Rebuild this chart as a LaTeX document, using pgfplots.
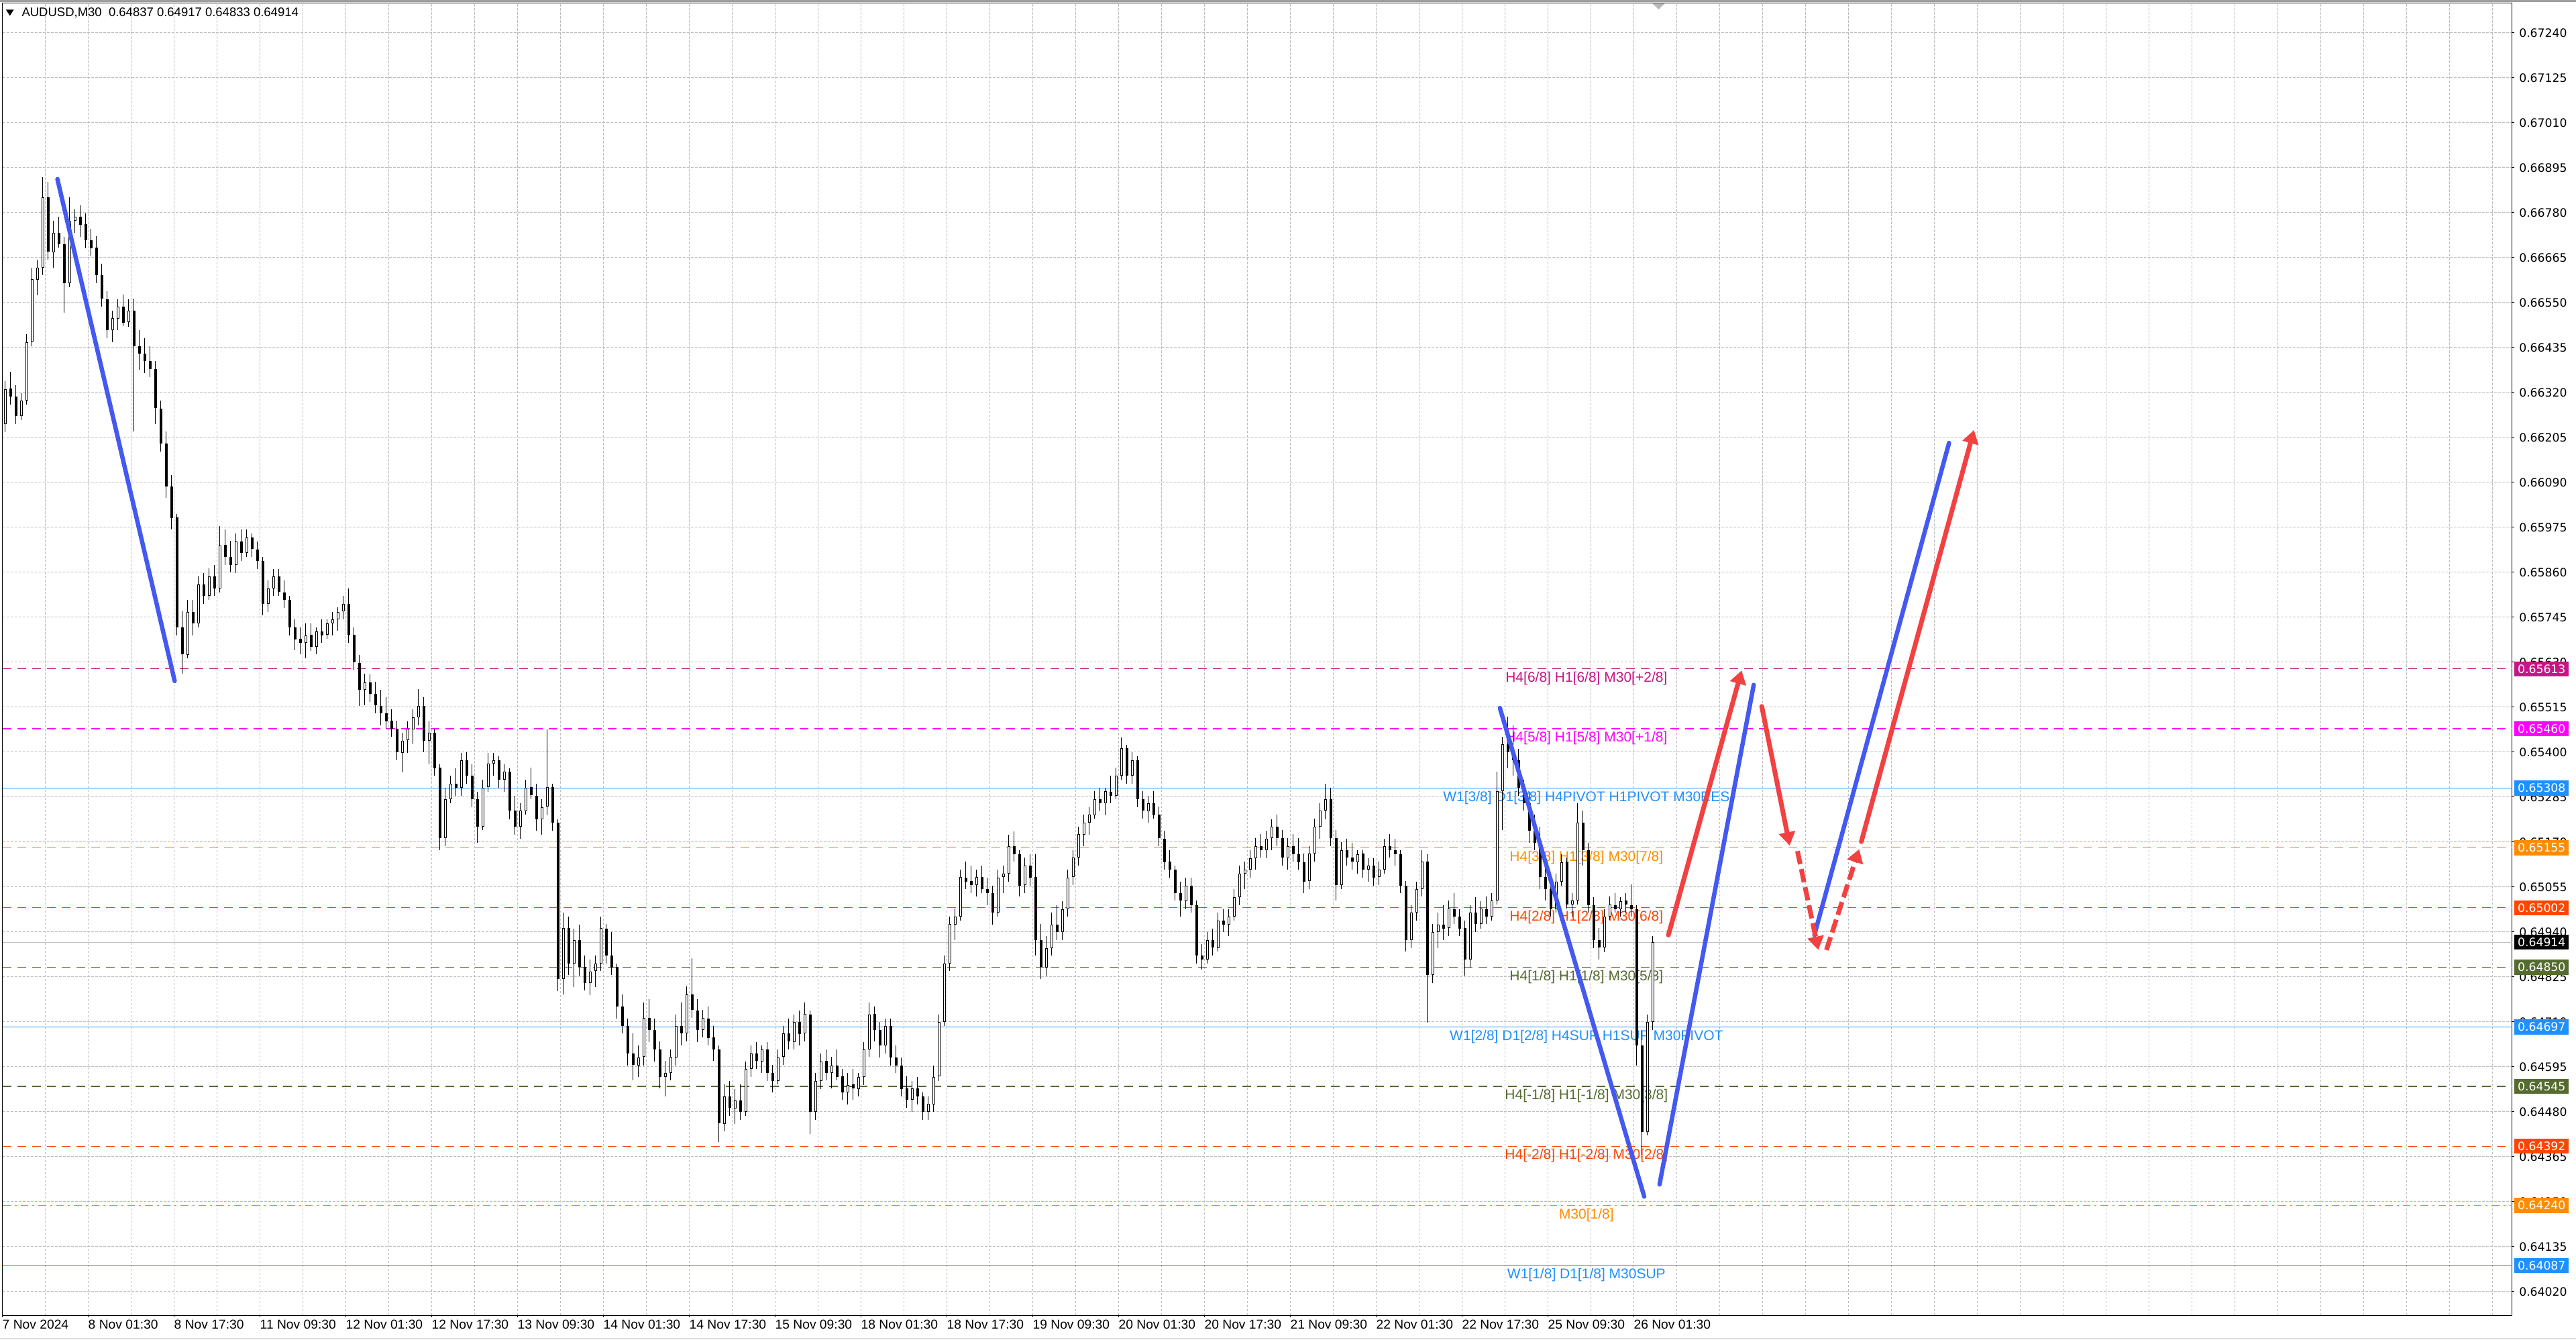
\documentclass[border=0pt]{standalone}
\usepackage{fontspec}
\setmainfont{Liberation Sans}
\newfontfamily\pricefamily{DejaVu Sans}
\usepackage{pgfplots}
\pgfplotsset{compat=1.18}
\usepackage{pgfplotstable}
\usetikzlibrary{arrows.meta}

\definecolor{mvred}{HTML}{C71585}
\definecolor{lvlmag}{HTML}{FF00FF}
\definecolor{dblue}{HTML}{1E90FF}
\definecolor{dorange}{HTML}{FF8C00}
\definecolor{ored}{HTML}{FF4500}
\definecolor{lvlolive}{HTML}{556B2F}
\definecolor{trendblue}{HTML}{4459F0}
\definecolor{arrowred}{HTML}{F24141}
\definecolor{gridgray}{HTML}{BEBEBE}
\definecolor{nowgray}{HTML}{C0C0C0}

\newcommand\pricefont{\pricefamily\fontsize{6.9}{7.5}\selectfont}
\newcommand\timefont{\fontsize{7.7}{9}\selectfont}
\newcommand\lvlfont{\fontsize{8.4}{10}\selectfont}
\newcommand\titlefont{\fontsize{7.4}{9}\selectfont}

% AUDUSD M30, drawn as hourly candles, x = bar index (1 bar = 30 min)
\pgfplotstableread{
x o h l c
1 0.66240 0.66350 0.66220 0.66330
3 0.66330 0.66375 0.66290 0.66310
5 0.66310 0.66340 0.66240 0.66260
7 0.66260 0.66320 0.66250 0.66300
9 0.66300 0.66470 0.66290 0.66450
11 0.66450 0.66640 0.66440 0.66610
13 0.66610 0.66660 0.66570 0.66640
15 0.66640 0.66871 0.66620 0.66820
17 0.66820 0.66860 0.66660 0.66680
19 0.66680 0.66760 0.66640 0.66730
21 0.66730 0.66770 0.66690 0.66700
23 0.66700 0.66720 0.66525 0.66600
25 0.66600 0.66820 0.66590 0.66760
27 0.66760 0.66790 0.66730 0.66770
29 0.66770 0.66800 0.66720 0.66750
31 0.66750 0.66780 0.66690 0.66710
33 0.66710 0.66740 0.66670 0.66690
35 0.66690 0.66720 0.66600 0.66620
37 0.66620 0.66650 0.66540 0.66560
39 0.66560 0.66580 0.66460 0.66480
41 0.66480 0.66530 0.66450 0.66510
43 0.66510 0.66560 0.66480 0.66540
45 0.66540 0.66570 0.66490 0.66500
47 0.66500 0.66560 0.66490 0.66530
49 0.66530 0.66560 0.66220 0.66440
51 0.66440 0.66480 0.66380 0.66420
53 0.66420 0.66460 0.66370 0.66400
55 0.66400 0.66440 0.66360 0.66380
57 0.66380 0.66400 0.66240 0.66280
59 0.66280 0.66300 0.66170 0.66190
61 0.66190 0.66220 0.66050 0.66080
63 0.66080 0.66110 0.65970 0.66000
65 0.66000 0.66010 0.65700 0.65720
67 0.65720 0.65760 0.65600 0.65650
69 0.65650 0.65790 0.65640 0.65760
71 0.65760 0.65790 0.65700 0.65730
73 0.65730 0.65850 0.65720 0.65830
75 0.65830 0.65860 0.65780 0.65800
77 0.65800 0.65870 0.65790 0.65850
79 0.65850 0.65880 0.65800 0.65820
81 0.65820 0.65980 0.65810 0.65930
83 0.65930 0.65970 0.65880 0.65900
85 0.65900 0.65940 0.65860 0.65880
87 0.65880 0.65960 0.65860 0.65940
89 0.65940 0.65970 0.65890 0.65910
91 0.65910 0.65970 0.65900 0.65950
93 0.65950 0.65960 0.65900 0.65920
95 0.65920 0.65940 0.65870 0.65890
97 0.65890 0.65900 0.65750 0.65780
99 0.65780 0.65840 0.65760 0.65820
101 0.65820 0.65870 0.65800 0.65850
103 0.65850 0.65870 0.65800 0.65810
105 0.65810 0.65840 0.65770 0.65790
107 0.65790 0.65800 0.65700 0.65720
109 0.65720 0.65740 0.65660 0.65690
111 0.65690 0.65720 0.65650 0.65680
113 0.65680 0.65730 0.65640 0.65700
115 0.65700 0.65730 0.65660 0.65670
117 0.65670 0.65720 0.65650 0.65710
119 0.65710 0.65740 0.65680 0.65700
121 0.65700 0.65740 0.65690 0.65730
123 0.65730 0.65760 0.65700 0.65740
125 0.65740 0.65770 0.65710 0.65760
127 0.65760 0.65800 0.65740 0.65780
129 0.65780 0.65820 0.65680 0.65700
131 0.65700 0.65720 0.65610 0.65630
133 0.65630 0.65650 0.65520 0.65560
135 0.65560 0.65600 0.65520 0.65580
137 0.65580 0.65600 0.65530 0.65550
139 0.65550 0.65580 0.65500 0.65520
141 0.65520 0.65560 0.65470 0.65500
143 0.65500 0.65540 0.65460 0.65480
145 0.65480 0.65510 0.65440 0.65460
147 0.65460 0.65480 0.65380 0.65400
149 0.65400 0.65450 0.65350 0.65430
151 0.65430 0.65480 0.65400 0.65460
153 0.65460 0.65510 0.65420 0.65490
155 0.65490 0.65563 0.65470 0.65520
157 0.65520 0.65540 0.65400 0.65430
159 0.65430 0.65480 0.65370 0.65450
161 0.65450 0.65460 0.65340 0.65360
163 0.65360 0.65370 0.65150 0.65180
165 0.65180 0.65310 0.65160 0.65280
167 0.65280 0.65340 0.65270 0.65320
169 0.65320 0.65360 0.65290 0.65310
171 0.65310 0.65400 0.65290 0.65380
173 0.65380 0.65400 0.65320 0.65340
175 0.65340 0.65370 0.65260 0.65280
177 0.65280 0.65300 0.65170 0.65210
179 0.65210 0.65330 0.65200 0.65310
181 0.65310 0.65400 0.65300 0.65370
183 0.65370 0.65400 0.65340 0.65380
185 0.65380 0.65390 0.65310 0.65330
187 0.65330 0.65370 0.65300 0.65350
189 0.65350 0.65360 0.65230 0.65250
191 0.65250 0.65290 0.65190 0.65210
193 0.65210 0.65270 0.65180 0.65250
195 0.65250 0.65330 0.65240 0.65310
197 0.65310 0.65360 0.65280 0.65290
199 0.65290 0.65320 0.65200 0.65230
201 0.65230 0.65280 0.65190 0.65260
203 0.65260 0.65460 0.65240 0.65310
205 0.65310 0.65320 0.65200 0.65220
207 0.65220 0.65230 0.64790 0.64820
209 0.64820 0.64990 0.64780 0.64950
211 0.64950 0.64980 0.64830 0.64860
213 0.64860 0.64950 0.64800 0.64920
215 0.64920 0.64960 0.64830 0.64850
217 0.64850 0.64880 0.64790 0.64810
219 0.64810 0.64870 0.64780 0.64840
221 0.64840 0.64880 0.64800 0.64860
223 0.64860 0.64980 0.64840 0.64950
225 0.64950 0.64960 0.64860 0.64880
227 0.64880 0.64940 0.64830 0.64850
229 0.64850 0.64860 0.64720 0.64750
231 0.64750 0.64780 0.64680 0.64700
233 0.64700 0.64720 0.64600 0.64630
235 0.64630 0.64680 0.64560 0.64600
237 0.64600 0.64650 0.64570 0.64620
239 0.64620 0.64760 0.64600 0.64720
241 0.64720 0.64770 0.64660 0.64690
243 0.64690 0.64720 0.64610 0.64640
245 0.64640 0.64660 0.64540 0.64570
247 0.64570 0.64610 0.64520 0.64580
249 0.64580 0.64640 0.64560 0.64620
251 0.64620 0.64730 0.64600 0.64700
253 0.64700 0.64760 0.64650 0.64680
255 0.64680 0.64800 0.64660 0.64780
257 0.64780 0.64873 0.64720 0.64740
259 0.64740 0.64770 0.64660 0.64690
261 0.64690 0.64740 0.64670 0.64720
263 0.64720 0.64750 0.64650 0.64670
265 0.64670 0.64700 0.64610 0.64640
267 0.64640 0.64650 0.64404 0.64450
269 0.64450 0.64550 0.64430 0.64520
271 0.64520 0.64560 0.64470 0.64490
273 0.64490 0.64540 0.64450 0.64510
275 0.64510 0.64550 0.64460 0.64480
277 0.64480 0.64610 0.64470 0.64590
279 0.64590 0.64650 0.64570 0.64630
281 0.64630 0.64660 0.64590 0.64610
283 0.64610 0.64650 0.64580 0.64640
285 0.64640 0.64660 0.64560 0.64580
287 0.64580 0.64600 0.64530 0.64560
289 0.64560 0.64640 0.64550 0.64620
291 0.64620 0.64700 0.64600 0.64680
293 0.64680 0.64720 0.64640 0.64660
295 0.64660 0.64730 0.64640 0.64710
297 0.64710 0.64740 0.64650 0.64680
299 0.64680 0.64760 0.64660 0.64730
301 0.64730 0.64740 0.64424 0.64480
303 0.64480 0.64580 0.64460 0.64560
305 0.64560 0.64630 0.64540 0.64610
307 0.64610 0.64640 0.64560 0.64580
309 0.64580 0.64620 0.64540 0.64600
311 0.64600 0.64640 0.64560 0.64570
313 0.64570 0.64590 0.64510 0.64530
315 0.64530 0.64580 0.64500 0.64550
317 0.64550 0.64590 0.64510 0.64540
319 0.64540 0.64580 0.64520 0.64570
321 0.64570 0.64660 0.64550 0.64640
323 0.64640 0.64760 0.64620 0.64730
325 0.64730 0.64750 0.64660 0.64690
327 0.64690 0.64710 0.64620 0.64650
329 0.64650 0.64720 0.64630 0.64700
331 0.64700 0.64720 0.64600 0.64620
333 0.64620 0.64650 0.64580 0.64600
335 0.64600 0.64620 0.64520 0.64540
337 0.64540 0.64570 0.64490 0.64510
339 0.64510 0.64560 0.64480 0.64540
341 0.64540 0.64570 0.64500 0.64520
343 0.64520 0.64530 0.64460 0.64480
345 0.64480 0.64520 0.64460 0.64500
347 0.64500 0.64600 0.64480 0.64570
349 0.64570 0.64730 0.64560 0.64710
351 0.64710 0.64880 0.64700 0.64860
353 0.64860 0.64980 0.64840 0.64960
355 0.64960 0.65000 0.64920 0.64980
357 0.64980 0.65100 0.64970 0.65080
359 0.65080 0.65120 0.65050 0.65070
361 0.65070 0.65110 0.65040 0.65060
363 0.65060 0.65100 0.65030 0.65080
365 0.65080 0.65110 0.65040 0.65050
367 0.65050 0.65080 0.65010 0.65040
369 0.65040 0.65060 0.64960 0.64990
371 0.64990 0.65100 0.64980 0.65080
373 0.65080 0.65110 0.65040 0.65090
375 0.65090 0.65190 0.65070 0.65160
377 0.65160 0.65197 0.65120 0.65140
379 0.65140 0.65150 0.65030 0.65060
381 0.65060 0.65130 0.65040 0.65110
383 0.65110 0.65140 0.65060 0.65080
385 0.65080 0.65140 0.64880 0.64920
387 0.64920 0.64960 0.64820 0.64850
389 0.64850 0.64930 0.64830 0.64900
391 0.64900 0.64990 0.64880 0.64960
393 0.64960 0.65010 0.64920 0.64940
395 0.64940 0.65020 0.64920 0.65000
397 0.65000 0.65100 0.64980 0.65080
399 0.65080 0.65150 0.65060 0.65130
401 0.65130 0.65210 0.65110 0.65190
403 0.65190 0.65240 0.65160 0.65220
405 0.65220 0.65260 0.65190 0.65240
407 0.65240 0.65300 0.65230 0.65280
409 0.65280 0.65310 0.65250 0.65270
411 0.65270 0.65310 0.65240 0.65300
413 0.65300 0.65340 0.65270 0.65290
415 0.65290 0.65360 0.65280 0.65340
417 0.65340 0.65439 0.65330 0.65410
419 0.65410 0.65420 0.65320 0.65340
421 0.65340 0.65400 0.65320 0.65380
423 0.65380 0.65390 0.65260 0.65280
425 0.65280 0.65300 0.65230 0.65250
427 0.65250 0.65290 0.65220 0.65270
429 0.65270 0.65300 0.65230 0.65240
431 0.65240 0.65260 0.65160 0.65180
433 0.65180 0.65200 0.65100 0.65120
435 0.65120 0.65150 0.65080 0.65100
437 0.65100 0.65110 0.65020 0.65040
439 0.65040 0.65070 0.64980 0.65020
441 0.65020 0.65080 0.65000 0.65060
443 0.65060 0.65080 0.64990 0.65010
445 0.65010 0.65020 0.64860 0.64880
447 0.64880 0.64910 0.64844 0.64870
449 0.64870 0.64940 0.64860 0.64920
451 0.64920 0.64950 0.64880 0.64900
453 0.64900 0.64990 0.64890 0.64970
455 0.64970 0.65000 0.64940 0.64960
457 0.64960 0.65000 0.64930 0.64980
459 0.64980 0.65050 0.64970 0.65030
461 0.65030 0.65110 0.65010 0.65090
463 0.65090 0.65120 0.65050 0.65100
465 0.65100 0.65150 0.65080 0.65130
467 0.65130 0.65180 0.65100 0.65160
469 0.65160 0.65190 0.65130 0.65150
471 0.65150 0.65200 0.65130 0.65180
473 0.65180 0.65230 0.65150 0.65210
475 0.65210 0.65240 0.65160 0.65180
477 0.65180 0.65200 0.65110 0.65130
479 0.65130 0.65180 0.65100 0.65160
481 0.65160 0.65190 0.65120 0.65140
483 0.65140 0.65180 0.65100 0.65120
485 0.65120 0.65140 0.65040 0.65070
487 0.65070 0.65160 0.65050 0.65140
489 0.65140 0.65230 0.65120 0.65210
491 0.65210 0.65270 0.65180 0.65250
493 0.65250 0.65320 0.65230 0.65280
495 0.65280 0.65310 0.65160 0.65180
497 0.65180 0.65200 0.65020 0.65060
499 0.65060 0.65170 0.65050 0.65150
501 0.65150 0.65180 0.65110 0.65130
503 0.65130 0.65170 0.65100 0.65120
505 0.65120 0.65150 0.65090 0.65140
507 0.65140 0.65150 0.65080 0.65100
509 0.65100 0.65130 0.65070 0.65110
511 0.65110 0.65130 0.65060 0.65080
513 0.65080 0.65120 0.65060 0.65100
515 0.65100 0.65180 0.65090 0.65160
517 0.65160 0.65190 0.65130 0.65150
519 0.65150 0.65180 0.65110 0.65140
521 0.65140 0.65150 0.65040 0.65060
523 0.65060 0.65070 0.64890 0.64920
525 0.64920 0.65010 0.64900 0.64990
527 0.64990 0.65070 0.64970 0.65050
529 0.65050 0.65150 0.65030 0.65120
531 0.65120 0.65140 0.64709 0.64830
533 0.64830 0.64960 0.64810 0.64940
535 0.64940 0.64990 0.64900 0.64960
537 0.64960 0.65010 0.64920 0.64950
539 0.64950 0.65020 0.64930 0.65000
541 0.65000 0.65040 0.64960 0.64980
543 0.64980 0.65000 0.64930 0.64950
545 0.64950 0.64970 0.64830 0.64870
547 0.64870 0.65010 0.64850 0.64990
549 0.64990 0.65030 0.64940 0.64960
551 0.64960 0.65020 0.64950 0.65000
553 0.65000 0.65030 0.64960 0.64980
555 0.64980 0.65040 0.64970 0.65020
557 0.65020 0.65350 0.65010 0.65300
559 0.65300 0.65440 0.65200 0.65420
561 0.65420 0.65493 0.65360 0.65400
563 0.65400 0.65470 0.65340 0.65380
565 0.65380 0.65410 0.65290 0.65310
567 0.65310 0.65330 0.65250 0.65270
569 0.65270 0.65300 0.65170 0.65200
571 0.65200 0.65240 0.65150 0.65170
573 0.65170 0.65210 0.65050 0.65080
575 0.65080 0.65120 0.65020 0.65050
577 0.65050 0.65060 0.64980 0.65000
579 0.65000 0.65090 0.64990 0.65070
581 0.65070 0.65140 0.65060 0.65120
583 0.65120 0.65130 0.65000 0.65010
585 0.65010 0.65040 0.64980 0.65020
587 0.65020 0.65270 0.65010 0.65220
589 0.65220 0.65250 0.65110 0.65150
591 0.65150 0.65170 0.64990 0.65010
593 0.65010 0.65030 0.64900 0.64920
595 0.64920 0.64950 0.64869 0.64900
597 0.64900 0.65000 0.64890 0.64980
599 0.64980 0.65030 0.64970 0.65010
601 0.65010 0.65040 0.64990 0.65000
603 0.65000 0.65030 0.64980 0.65020
605 0.65020 0.65040 0.64990 0.65010
607 0.65010 0.65063 0.64980 0.65000
609 0.65000 0.65010 0.64600 0.64650
611 0.64650 0.64690 0.64370 0.64430
613 0.64430 0.64730 0.64420 0.64710
615 0.64710 0.64930 0.64690 0.64914
}\candles

\begin{document}
\begin{tikzpicture}
\path[use as bounding box, fill=white] (-1.6pt,-14.4pt) rectangle (1534.4pt,784pt);
\begin{axis}[
  at={(0,0)}, anchor=south west,
  scale only axis, width=1496.4pt, height=782.2pt,
  xmin=0, xmax=935.25, ymin=0.639597, ymax=0.673164,
  clip=false,
  axis line style={black, line width=0.4pt},
  tick align=outside,
  xtick pos=bottom, ytick pos=right, yticklabel pos=right,
  major tick length=1.2pt, minor tick length=0pt,
  tick style={black, line width=0.4pt},
  xtick={0,32,...,608},
  xticklabels={7 Nov 2024,8 Nov 01:30,8 Nov 17:30,11 Nov 09:30,12 Nov 01:30,12 Nov 17:30,13 Nov 09:30,14 Nov 01:30,14 Nov 17:30,15 Nov 09:30,18 Nov 01:30,18 Nov 17:30,19 Nov 09:30,20 Nov 01:30,20 Nov 17:30,21 Nov 09:30,22 Nov 01:30,22 Nov 17:30,25 Nov 09:30,26 Nov 01:30},
  minor xtick={0,16,...,928},
  xminorgrids=true, xmajorgrids=false, ymajorgrids=true,
  grid style={draw=gridgray, line width=0.4pt, dash pattern=on 1.4pt off 1pt},
  minor grid style={draw=gridgray, line width=0.4pt, dash pattern=on 1.4pt off 1pt},
  ytick={0.64020,0.64135,0.64250,0.64365,0.64480,0.64595,0.64710,0.64825,0.64940,0.65055,0.65170,0.65285,0.65400,0.65515,0.65630,0.65745,0.65860,0.65975,0.66090,0.66205,0.66320,0.66435,0.66550,0.66665,0.66780,0.66895,0.67010,0.67125,0.67240},
  yticklabels={0.64020,0.64135,0.64250,0.64365,0.64480,0.64595,0.64710,0.64825,0.64940,0.65055,0.65170,0.65285,0.65400,0.65515,0.65630,0.65745,0.65860,0.65975,0.66090,0.66205,0.66320,0.66435,0.66550,0.66665,0.66780,0.66895,0.67010,0.67125,0.67240},
  xticklabel style={font=\timefont, anchor=north west, inner sep=0pt, yshift=-1.4pt, xshift=-0.3pt},
  yticklabel style={font=\pricefont, anchor=west, inner sep=0pt, xshift=2.8pt},
]
% horizontal levels
\addplot[mvred, line width=0.45pt, dash pattern=on 5.2pt off 3.6pt] coordinates {(0,0.65613) (935.25,0.65613)};
\addplot[lvlmag, line width=0.45pt, dash pattern=on 5.2pt off 3.6pt] coordinates {(0,0.65460) (935.25,0.65460)};
\addplot[dblue, line width=0.45pt] coordinates {(0,0.65308) (935.25,0.65308)};
\addplot[dorange, line width=0.45pt, dash pattern=on 5.2pt off 3.6pt] coordinates {(0,0.65155) (935.25,0.65155)};
\addplot[ored, line width=0.45pt, dash pattern=on 5.2pt off 3.6pt] coordinates {(0,0.65002) (935.25,0.65002)};
\addplot[nowgray, line width=0.4pt] coordinates {(0,0.64914) (935.25,0.64914)};
\addplot[lvlolive, line width=0.45pt, dash pattern=on 5.2pt off 3.6pt] coordinates {(0,0.64850) (935.25,0.64850)};
\addplot[dblue, line width=0.45pt] coordinates {(0,0.64697) (935.25,0.64697)};
\addplot[lvlolive, line width=0.45pt, dash pattern=on 5.2pt off 3.6pt] coordinates {(0,0.64545) (935.25,0.64545)};
\addplot[ored, line width=0.45pt, dash pattern=on 5.2pt off 3.6pt] coordinates {(0,0.64392) (935.25,0.64392)};
\addplot[dorange, line width=0.45pt, dash pattern=on 4.6pt off 2.4pt on 1.2pt off 2.4pt] coordinates {(0,0.64240) (935.25,0.64240)};
\addplot[dblue, line width=0.45pt] coordinates {(0,0.64087) (935.25,0.64087)};

% level captions
\begin{scope}[every node/.style={anchor=north, inner sep=0pt, font=\lvlfont, yshift=-1.6pt}]
\node[text=mvred] at (axis cs:590.25,0.65613) {H4[6/8] H1[6/8] M30[+2/8]};
\node[text=lvlmag] at (axis cs:590.25,0.65460) {H4[5/8] H1[5/8] M30[+1/8]};
\node[text=dblue] at (axis cs:590.25,0.65308) {W1[3/8] D1[3/8] H4PIVOT H1PIVOT M30RES};
\node[text=dorange] at (axis cs:590.25,0.65155) {H4[3/8] H1[3/8] M30[7/8]};
\node[text=ored] at (axis cs:590.25,0.65002) {H4[2/8] H1[2/8] M30[6/8]};
\node[text=lvlolive] at (axis cs:590.25,0.64850) {H4[1/8] H1[1/8] M30[5/8]};
\node[text=dblue] at (axis cs:590.25,0.64697) {W1[2/8] D1[2/8] H4SUP H1SUP M30PIVOT};
\node[text=lvlolive] at (axis cs:590.25,0.64545) {H4[-1/8] H1[-1/8] M30[3/8]};
\node[text=ored] at (axis cs:590.25,0.64392) {H4[-2/8] H1[-2/8] M30[2/8]};
\node[text=dorange] at (axis cs:590.25,0.64240) {M30[1/8]};
\node[text=dblue] at (axis cs:590.25,0.64087) {W1[1/8] D1[1/8] M30SUP};
\end{scope}

% candles: wicks, bodies, hollow bullish bodies
\addplot[draw=none, mark=none, forget plot,
  error bars/.cd, y dir=both, y explicit, error mark=none,
  error bar style={draw=black, line width=0.4pt}]
  table[x=x, y expr={(\thisrow{h}+\thisrow{l})/2}, y error expr={(\thisrow{h}-\thisrow{l})/2}] {\candles};
\addplot[draw=none, mark=none, forget plot,
  error bars/.cd, y dir=both, y explicit, error mark=none,
  error bar style={draw=black, line width=1.8pt}]
  table[x=x, y expr={(\thisrow{o}+\thisrow{c})/2}, y error expr={max(abs(\thisrow{c}-\thisrow{o})/2,0.0000086)}] {\candles};
\addplot[draw=none, mark=none, forget plot,
  error bars/.cd, y dir=both, y explicit, error mark=none,
  error bar style={draw=white, line width=1.0pt}]
  table[x=x, y expr={(\thisrow{o}+\thisrow{c})/2}, y error expr={ifthenelse(\thisrow{c}>\thisrow{o}, max((\thisrow{c}-\thisrow{o})/2-0.0000172,0), 0)}] {\candles};

% trend lines
\addplot[trendblue, line width=2.6pt, line cap=round] coordinates {(20.4,0.66866) (64.1,0.65582)};
\addplot[trendblue, line width=2.6pt, line cap=round] coordinates {(558.0,0.65513) (611.8,0.64263)};
\addplot[trendblue, line width=2.6pt, line cap=round] coordinates {(617.5,0.64294) (652.6,0.65572)};
\addplot[trendblue, line width=2.6pt, line cap=round] coordinates {(675.2,0.64932) (725.4,0.66191)};

% projected path
\addplot[arrowred, line width=2.8pt, line cap=round, -{Triangle[length=8pt,width=9.5pt]}] coordinates {(620.8,0.64932) (648.1,0.65609)};
\addplot[arrowred, line width=2.8pt, line cap=round, -{Triangle[length=8pt,width=9.5pt]}] coordinates {(655.6,0.65517) (666.0,0.65161)};
\addplot[arrowred, line width=2.8pt, dash pattern=on 8pt off 3pt, -{Triangle[length=8pt,width=9.5pt]}] coordinates {(668.9,0.65147) (676.7,0.64894)};
\addplot[arrowred, line width=2.8pt, dash pattern=on 8pt off 3pt, -{Triangle[length=8pt,width=9.5pt]}] coordinates {(679.7,0.64894) (691.9,0.65152)};
\addplot[arrowred, line width=2.8pt, line cap=round, -{Triangle[length=8pt,width=9.5pt]}] coordinates {(692.7,0.65171) (734.7,0.66224)};

\coordinate (b1) at (axis cs:935.25,0.65613);
\coordinate (b2) at (axis cs:935.25,0.65460);
\coordinate (b3) at (axis cs:935.25,0.65308);
\coordinate (b4) at (axis cs:935.25,0.65155);
\coordinate (b5) at (axis cs:935.25,0.65002);
\coordinate (b6) at (axis cs:935.25,0.64914);
\coordinate (b7) at (axis cs:935.25,0.64850);
\coordinate (b8) at (axis cs:935.25,0.64697);
\coordinate (b9) at (axis cs:935.25,0.64545);
\coordinate (b10) at (axis cs:935.25,0.64392);
\coordinate (b11) at (axis cs:935.25,0.64240);
\coordinate (b12) at (axis cs:935.25,0.64087);
\end{axis}

% price boxes on the scale
\begin{scope}[every node/.style={anchor=west, inner sep=0pt, minimum width=32.4pt, minimum height=9pt, text=white, font=\pricefont, xshift=1.2pt}]
\node[fill=mvred] at (b1) {0.65613};
\node[fill=lvlmag] at (b2) {0.65460};
\node[fill=dblue] at (b3) {0.65308};
\node[fill=dorange] at (b4) {0.65155};
\node[fill=ored] at (b5) {0.65002};
\node[fill=black] at (b6) {0.64914};
\node[fill=lvlolive] at (b7) {0.64850};
\node[fill=dblue] at (b8) {0.64697};
\node[fill=lvlolive] at (b9) {0.64545};
\node[fill=ored] at (b10) {0.64392};
\node[fill=dorange] at (b11) {0.64240};
\node[fill=dblue] at (b12) {0.64087};
\end{scope}

% window chrome
\fill[gray!75] (-1.6pt,782.9pt) rectangle (1534.4pt,784pt);
\fill[gray!25] (-1.6pt,-14.4pt) rectangle (1534.4pt,-13.4pt);
\fill[gray!55] (983.6pt,782pt) -- (991.2pt,782pt) -- (987.4pt,778.4pt) -- cycle;
\fill[black] (2pt,778.2pt) -- (6.6pt,778.2pt) -- (4.3pt,774.6pt) -- cycle;
\node[anchor=west, inner sep=0pt, font=\titlefont] at (11.2pt,776.2pt) {AUDUSD,M30\ \ 0.64837 0.64917 0.64833 0.64914};
\end{tikzpicture}
\end{document}
